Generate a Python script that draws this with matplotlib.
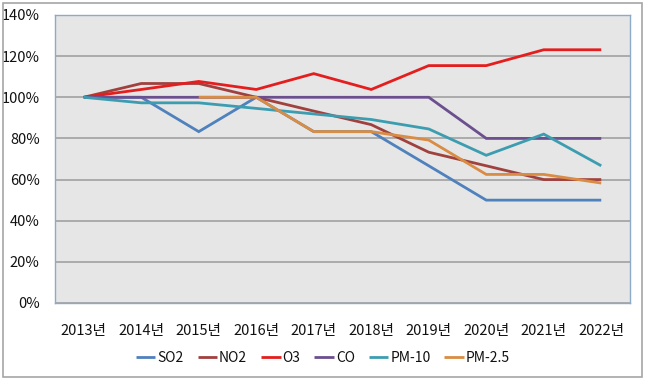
import matplotlib
matplotlib.use("Agg")
import matplotlib.pyplot as plt
import numpy as np
from matplotlib.patches import Rectangle

plt.rcParams['font.family'] = ['Noto Sans CJK KR', 'DejaVu Sans']

years = ["2013년", "2014년", "2015년", "2016년", "2017년",
         "2018년", "2019년", "2020년", "2021년", "2022년"]
so2 = [100, 100, 83.3, 100, 83.3, 83.3, 66.7, 50, 50, 50]
no2 = [100, 106.7, 106.7, 100, 93.3, 86.7, 73.3, 66.7, 60, 60]
o3 = [100, 103.8, 107.7, 103.8, 111.5, 103.8, 115.4, 115.4, 123.1, 123.1]
co = [100, 100, 100, 100, 100, 100, 100, 80, 80, 80]
pm10 = [100, 97.3, 97.3, 94.6, 91.9, 89.2, 84.6, 71.8, 82.1, 66.7]
pm25 = [np.nan, np.nan, 100, 100, 83.3, 83.3, 79.2, 62.5, 62.5, 58.3]

series = [("SO2", so2, "#4F81BD"), ("NO2", no2, "#A0413E"),
          ("O3", o3, "#E41E1E"), ("CO", co, "#6B4F8F"),
          ("PM-10", pm10, "#3D9DB0"), ("PM-2.5", pm25, "#D98C44")]

fig = plt.figure(figsize=(6.45, 3.8), dpi=100)
fig.patch.set_facecolor("white")
fig.add_artist(Rectangle((0.004, 0.008), 0.991, 0.985, transform=fig.transFigure,
                         fill=False, edgecolor="#a6a6a6", linewidth=1.2))

ax = fig.add_axes([55/645, 1-303/380, 575/645, 288/380])
ax.set_facecolor("#e6e6e6")
x = np.arange(len(years))
for name, vals, col in series:
    ax.plot(x, np.array(vals, dtype=float) / 100, color=col, lw=2.0, label=name,
            solid_capstyle="butt", solid_joinstyle="miter")

ax.set_xlim(-0.5, len(years) - 0.5)
ax.set_ylim(0, 1.4)
yt = np.arange(0, 1.41, 0.2)
ax.set_yticks(yt)
ax.set_yticklabels([f"{int(round(v*100))}%" for v in yt], fontsize=10.5, color="#111111")
ax.set_xticks(x)
ax.set_xticklabels(years, fontsize=10.5, color="#111111")
ax.tick_params(axis='y', length=0, pad=11)
ax.tick_params(axis='x', length=0, pad=15)
ax.grid(axis='y', color="#a6a6a6", lw=1.3)
ax.set_axisbelow(True)
for s in ax.spines.values():
    s.set_color("#8eaacb")
    s.set_linewidth(1.0)

leg = fig.legend(loc="center", bbox_to_anchor=(323/645, 1-358/380), ncol=6,
                 frameon=False, fontsize=10, handlelength=1.4, handletextpad=0.15,
                 columnspacing=1.0)
for t in leg.get_texts():
    t.set_color("#111111")

fig.savefig("out.png", dpi=100)
